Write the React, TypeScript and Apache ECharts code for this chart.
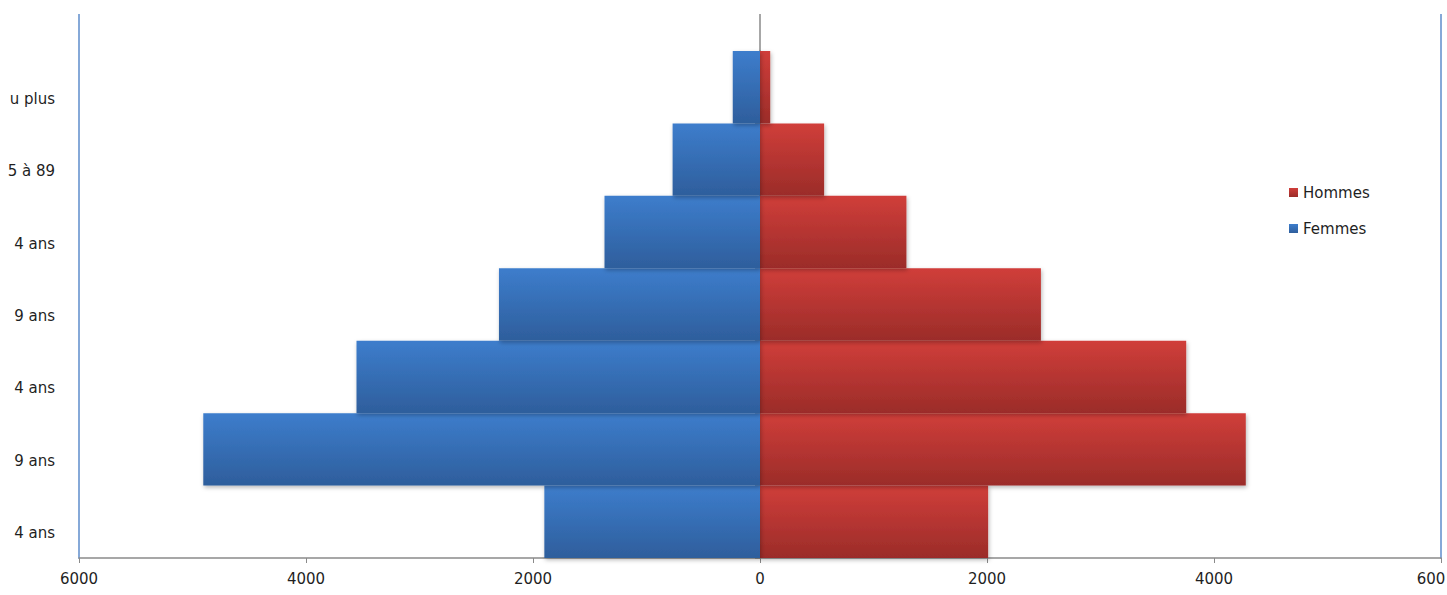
import React, { useEffect, useRef } from "react";
import * as echarts from "echarts";

// Age-group labels as they show at the left edge, bottom to top
const ageGroups: string[] = [
  "4 ans",
  "9 ans",
  "4 ans",
  "9 ans",
  "4 ans",
  "5 à 89",
  "u plus",
];

const hommes: number[] = [2010, 4280, 3755, 2475, 1290, 565, 90];
const femmes: number[] = [1900, 4905, 3555, 2300, 1370, 770, 240];

const xTicks = { min: -6000, max: 6000, interval: 2000 };
// Right-most tick label, as it shows at the right edge
const lastTickLabel = "600";

const W = 1447;
const H = 595;
const GRID = { left: 79, right: 6, top: 51, bottom: 37 };
const FRAME_TOP = 14;

const FONT = "DejaVu Sans";
const TEXT = "#1f1f1f";
const AXIS_GREY = "#8a8a8a";
const FRAME_BLUE = "#86a9d8";

export default function App() {
  const ref = useRef<HTMLDivElement>(null);

  useEffect(() => {
    if (!ref.current) return;
    const chart = echarts.init(ref.current, null, { renderer: "svg" });

    const plotLeft = GRID.left;
    const plotRight = W - GRID.right;
    const zeroX =
      plotLeft + ((0 - xTicks.min) / (xTicks.max - xTicks.min)) * (plotRight - plotLeft);

    const blueGrad = new echarts.graphic.LinearGradient(0, 0, 0, 1, [
      { offset: 0, color: "#3d7dcc" },
      { offset: 1, color: "#2e5e9c" },
    ]);
    const redGrad = new echarts.graphic.LinearGradient(0, 0, 0, 1, [
      { offset: 0, color: "#d03e3a" },
      { offset: 1, color: "#9b2c29" },
    ]);

    const shadow = {
      shadowBlur: 4,
      shadowOffsetX: 1,
      shadowOffsetY: 2,
      shadowColor: "rgba(0,0,0,0.28)",
    };

    const labelText = { fontFamily: FONT, fontSize: 15, color: TEXT };

    chart.setOption({
      animation: false,
      textStyle: { fontFamily: FONT },
      grid: { ...GRID, containLabel: false, outerBoundsMode: "none" },
      legend: {
        orient: "vertical",
        left: 1284,
        top: 180,
        itemWidth: 9,
        itemHeight: 9,
        itemGap: 21,
        icon: "rect",
        data: ["Hommes", "Femmes"],
        textStyle: { fontFamily: FONT, fontSize: 15, color: TEXT },
      },
      xAxis: {
        type: "value",
        min: xTicks.min,
        max: xTicks.max,
        interval: xTicks.interval,
        axisLine: { show: true, onZero: false, lineStyle: { color: AXIS_GREY, width: 1.5 } },
        axisTick: { show: true, length: 5, lineStyle: { color: AXIS_GREY } },
        splitLine: { show: false },
        axisLabel: {
          margin: 13,
          ...labelText,
          formatter: (v: number) =>
            v === xTicks.max ? `{edge|${lastTickLabel}}` : String(Math.abs(v)),
          rich: {
            edge: { ...labelText, padding: [0, 20, 0, 0] },
          },
        },
      },
      yAxis: [
        {
          type: "category",
          data: ageGroups,
          position: "left",
          axisLine: { show: true, onZero: false, lineStyle: { color: FRAME_BLUE, width: 2 } },
          axisTick: { show: false },
          axisLabel: {
            margin: 24,
            ...labelText,
            verticalAlign: "top",
            padding: [4, 0, 0, 0],
          },
        },
        {
          type: "category",
          data: ageGroups,
          position: "left",
          axisLine: { show: true, onZero: true, lineStyle: { color: AXIS_GREY, width: 1.5 } },
          axisTick: { show: true, length: 5, lineStyle: { color: AXIS_GREY } },
          axisLabel: { show: false },
        },
        {
          type: "category",
          data: ageGroups,
          position: "right",
          axisLine: { show: true, onZero: false, lineStyle: { color: FRAME_BLUE, width: 2 } },
          axisTick: { show: false },
          axisLabel: { show: false },
        },
      ],
      series: [
        {
          name: "Hommes",
          type: "bar",
          yAxisIndex: 0,
          data: hommes,
          barCategoryGap: 0,
          barGap: "-100%",
          itemStyle: { color: redGrad, ...shadow },
        },
        {
          name: "Femmes",
          type: "bar",
          yAxisIndex: 0,
          data: femmes.map((v) => -v),
          barCategoryGap: 0,
          barGap: "-100%",
          itemStyle: { color: blueGrad, ...shadow },
        },
      ],
      graphic: [
        {
          type: "line",
          shape: { x1: plotLeft, y1: FRAME_TOP, x2: plotLeft, y2: GRID.top },
          style: { stroke: FRAME_BLUE, lineWidth: 2 },
          silent: true,
        },
        {
          type: "line",
          shape: { x1: plotRight, y1: FRAME_TOP, x2: plotRight, y2: GRID.top },
          style: { stroke: FRAME_BLUE, lineWidth: 2 },
          silent: true,
        },
        {
          type: "line",
          shape: { x1: zeroX, y1: FRAME_TOP, x2: zeroX, y2: GRID.top },
          style: { stroke: AXIS_GREY, lineWidth: 1.5 },
          silent: true,
        },
      ],
    });

    return () => chart.dispose();
  }, []);

  return (
    <div
      ref={ref}
      style={{ position: "fixed", left: 0, top: 0, width: W, height: H, background: "#fff" }}
    />
  );
}
